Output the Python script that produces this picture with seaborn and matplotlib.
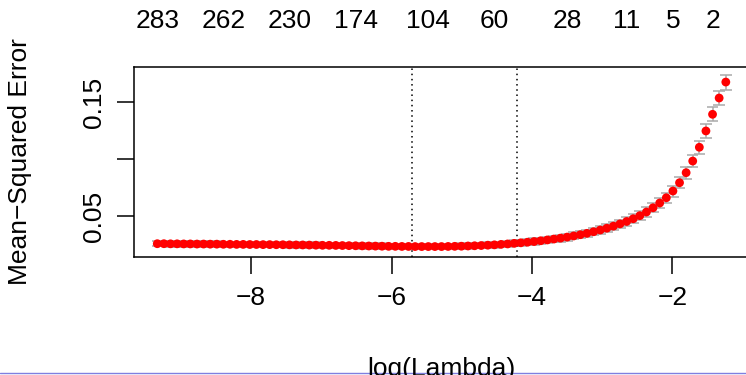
import matplotlib
matplotlib.use("Agg")
import matplotlib.pyplot as plt
import seaborn as sns
import pandas as pd
from matplotlib.lines import Line2D

# Cross-validation path: log(lambda), mean CV error and its standard error
log_lambda = [
    -9.334, -9.240, -9.146, -9.052, -8.958, -8.864, -8.769, -8.675, -8.581, -8.487,
    -8.393, -8.299, -8.205, -8.111, -8.017, -7.923, -7.828, -7.734, -7.640, -7.546,
    -7.452, -7.358, -7.264, -7.170, -7.076, -6.982, -6.887, -6.793, -6.699, -6.605,
    -6.511, -6.417, -6.323, -6.229, -6.135, -6.041, -5.946, -5.852, -5.758, -5.664,
    -5.570, -5.476, -5.382, -5.288, -5.194, -5.100, -5.005, -4.911, -4.817, -4.723,
    -4.629, -4.535, -4.441, -4.347, -4.253, -4.159, -4.064, -3.970, -3.876, -3.782,
    -3.688, -3.594, -3.500, -3.406, -3.312, -3.218, -3.123, -3.029, -2.935, -2.841,
    -2.747, -2.653, -2.559, -2.465, -2.371, -2.277, -2.182, -2.088, -1.994, -1.900,
    -1.806, -1.712, -1.618, -1.524, -1.430, -1.336, -1.241,
]
cv_mse = [
    0.0257, 0.0257, 0.0256, 0.0256, 0.0255, 0.0255, 0.0254, 0.0254, 0.0253, 0.0253,
    0.0252, 0.0252, 0.0251, 0.0251, 0.0250, 0.0250, 0.0249, 0.0249, 0.0248, 0.0248,
    0.0247, 0.0246, 0.0246, 0.0245, 0.0244, 0.0243, 0.0243, 0.0242, 0.0241, 0.0240,
    0.0239, 0.0238, 0.0237, 0.0236, 0.0235, 0.0234, 0.0234, 0.0233, 0.0233, 0.0232,
    0.0232, 0.0232, 0.0232, 0.0232, 0.0233, 0.0234, 0.0235, 0.0237, 0.0239, 0.0241,
    0.0244, 0.0247, 0.0251, 0.0255, 0.0260, 0.0265, 0.0270, 0.0276, 0.0283, 0.0290,
    0.0298, 0.0306, 0.0315, 0.0325, 0.0336, 0.0348, 0.0362, 0.0377, 0.0393, 0.0411,
    0.0431, 0.0452, 0.0476, 0.0503, 0.0535, 0.0572, 0.0614, 0.0660, 0.0719, 0.0792,
    0.0880, 0.0982, 0.1103, 0.1246, 0.1392, 0.1535, 0.1675,
]
cv_se = [
    0.0024, 0.0024, 0.0024, 0.0024, 0.0024, 0.0024, 0.0024, 0.0024, 0.0024, 0.0024,
    0.0024, 0.0024, 0.0024, 0.0024, 0.0024, 0.0024, 0.0024, 0.0024, 0.0024, 0.0024,
    0.0024, 0.0024, 0.0024, 0.0024, 0.0024, 0.0024, 0.0024, 0.0024, 0.0024, 0.0024,
    0.0024, 0.0024, 0.0024, 0.0024, 0.0024, 0.0024, 0.0024, 0.0024, 0.0024, 0.0024,
    0.0024, 0.0024, 0.0024, 0.0024, 0.0024, 0.0024, 0.0024, 0.0024, 0.0024, 0.0024,
    0.0024, 0.0025, 0.0025, 0.0026, 0.0026, 0.0027, 0.0027, 0.0028, 0.0028, 0.0029,
    0.0029, 0.0030, 0.0031, 0.0031, 0.0032, 0.0033, 0.0033, 0.0034, 0.0035, 0.0035,
    0.0036, 0.0037, 0.0038, 0.0039, 0.0040, 0.0041, 0.0043, 0.0046, 0.0048, 0.0050,
    0.0052, 0.0055, 0.0058, 0.0060, 0.0062, 0.0064, 0.0066,
]

# Number of nonzero coefficients shown along the top
nz_counts = [283, 262, 230, 174, 104, 60, 28, 11, 5, 2]
nz_at = [-9.334, -8.393, -7.452, -6.511, -5.476, -4.535, -3.500, -2.653, -1.994, -1.430]

# lambda.min and lambda.1se
lambda_marks = [-5.704, -4.218]

x_ticks = [-8, -6, -4, -2]
y_ticks = [0.05, 0.10, 0.15]
y_tick_labels = ["0.05", "", "0.15"]

df = pd.DataFrame({"log_lambda": log_lambda, "mse": cv_mse, "se": cv_se})
df["upper"] = df["mse"] + df["se"]
df["lower"] = df["mse"] - df["se"]

sns.set_theme(style="ticks")
plt.rcParams["font.family"] = ["Liberation Sans", "DejaVu Sans"]
plt.rcParams["text.color"] = "black"

W, H = 746, 375
fig = plt.figure(figsize=(W / 100, H / 100), dpi=100)
left, right, top, bottom = 134, 748.6, 67, 257
ax = fig.add_axes([left / W, 1 - bottom / H, (right - left) / W, (bottom - top) / H])

FS = 19

# error bars (drawn under the points)
barw = 0.081
grey = "#a9a9a9"
ax.vlines(df["log_lambda"], df["lower"], df["upper"], color=grey, lw=1.1, zorder=1)
ax.hlines(df["upper"], df["log_lambda"] - barw, df["log_lambda"] + barw, color=grey, lw=1.1, zorder=1)
ax.hlines(df["lower"], df["log_lambda"] - barw, df["log_lambda"] + barw, color=grey, lw=1.1, zorder=1)

sns.scatterplot(data=df, x="log_lambda", y="mse", ax=ax, color="red", s=40,
                edgecolor="none", linewidth=0, zorder=3)

for v in lambda_marks:
    ax.axvline(v, color="black", lw=1.1, linestyle=(0, (1, 2.4)), zorder=2)

ax.set_xlim(-9.6655, -0.9167)
ax.set_ylim(0.01404, 0.18070)

ax.set_xticks(x_ticks)
ax.set_xticklabels([f"{t:d}".replace("-", "\u2212") for t in x_ticks])
ax.set_yticks(y_ticks)
ax.set_yticklabels(y_tick_labels, rotation=90, va="center")
ax.tick_params(axis="both", direction="out", length=12, width=1.1, color="black",
               labelsize=FS, labelcolor="black", pad=8)
ax.tick_params(axis="x", pad=9)

for s in ax.spines.values():
    s.set_visible(True)
    s.set_color("black")
    s.set_linewidth(1.1)

ax.set_xlabel("")
ax.set_ylabel("")

# axis titles
fig.text(441 / W, 1 - 357 / H, "log(Lambda)", ha="center", va="top", fontsize=FS,
         color="black")
fig.text(20 / W, 1 - 162 / H, "Mean\u2212Squared Error", ha="center", va="center",
         rotation=90, fontsize=FS, color="black")

# nonzero-count labels above the panel
trans = ax.get_xaxis_transform()
for n, xv in zip(nz_counts, nz_at):
    ax.text(xv, 1 + 46 / (bottom - top), str(n), transform=trans, ha="center",
            va="center", fontsize=FS, color="black", clip_on=False)

# thin rule at the bottom edge
fig.add_artist(Line2D([0, 1], [1 - 372.5 / H] * 2, transform=fig.transFigure,
                      color="#7f7fe0", lw=1.0))

fig.savefig("out.png", dpi=100)
